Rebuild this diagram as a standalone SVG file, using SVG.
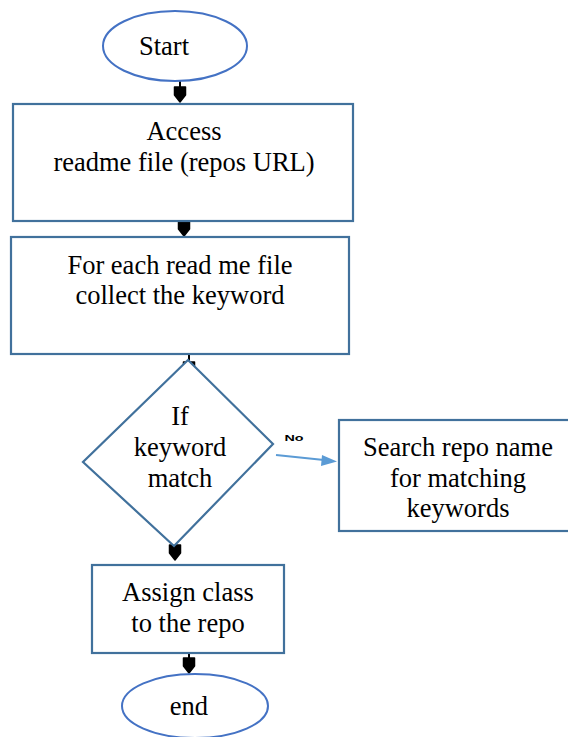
<svg xmlns="http://www.w3.org/2000/svg" width="568" height="737" viewBox="0 0 568 737">
  <style>
    .shape { fill: #ffffff; stroke: #41719c; stroke-width: 2.2; }
    .oval { fill: #ffffff; stroke: #4472c4; stroke-width: 2; }
    .label { fill: #000000; text-anchor: middle; }
    .flow { stroke: #000000; stroke-width: 2; fill: none; }
    .side { stroke: #5b9bd5; stroke-width: 2; fill: none; }
  </style>
  <defs>
    <!-- heavy black arrowhead, tip at the origin, pointing down -->
    <path id="head" d="M-5.5,-15 L5.5,-15 L5.5,-7 L0,0 L-5.5,-7 Z" fill="#000000" stroke="#000000" stroke-width="1.5" stroke-linejoin="round"/>
  </defs>

  <g id="connectors">
    <line class="flow" x1="180" y1="81" x2="180" y2="90"/>
    <use href="#head" x="180" y="102"/>
    <line class="flow" x1="184" y1="219" x2="184" y2="224"/>
    <use href="#head" x="184" y="236"/>
    <line class="flow" x1="189" y1="354" x2="189" y2="364"/>
    <use href="#head" x="189" y="377"/>
    <line class="flow" x1="175" y1="537" x2="175" y2="546"/>
    <use href="#head" x="175" y="560"/>
    <line class="flow" x1="189" y1="652" x2="189" y2="660"/>
    <use href="#head" x="189" y="673"/>
    <line class="side" x1="276" y1="455" x2="324" y2="460"/>
    <path d="M337,461.5 L322,455 L321,466 Z" fill="#5b9bd5"/>
    <text x="294" y="442" font-family="'Liberation Sans', Arial, sans-serif" font-size="11" font-weight="bold" text-anchor="middle" transform="translate(294 438) scale(1.3 0.85) translate(-294 -438)">No</text>
  </g>

  <g font-family="'Liberation Serif', 'Times New Roman', serif" font-size="26.5">
    <g id="start">
      <ellipse class="oval" cx="175" cy="46" rx="72" ry="35"/>
      <text class="label" x="164" y="55">Start</text>
    </g>

    <g id="access">
      <rect class="shape" x="13" y="104" width="340" height="117"/>
      <text class="label" x="184" y="140">Access</text>
      <text class="label" x="184" y="171">readme file (repos URL)</text>
    </g>

    <g id="collect">
      <rect class="shape" x="11" y="237" width="338" height="117"/>
      <text class="label" x="180" y="274">For each read me file</text>
      <text class="label" x="180" y="304">collect the keyword</text>
    </g>

    <g id="decision">
      <polygon class="shape" points="188,360 273,444 174,546 83,462"/>
      <text class="label" x="180" y="425">If</text>
      <text class="label" x="180" y="456">keyword</text>
      <text class="label" x="180" y="487">match</text>
    </g>

    <g id="search">
      <rect class="shape" x="339" y="420" width="232" height="111"/>
      <text class="label" x="458" y="456">Search repo name</text>
      <text class="label" x="458" y="487">for matching</text>
      <text class="label" x="458" y="517">keywords</text>
    </g>

    <g id="assign">
      <rect class="shape" x="92" y="565" width="192" height="88"/>
      <text class="label" x="188" y="601">Assign class</text>
      <text class="label" x="188" y="632">to the repo</text>
    </g>

    <g id="end">
      <ellipse class="oval" cx="195" cy="706" rx="73" ry="32"/>
      <text class="label" x="189" y="715">end</text>
    </g>
  </g>
</svg>
